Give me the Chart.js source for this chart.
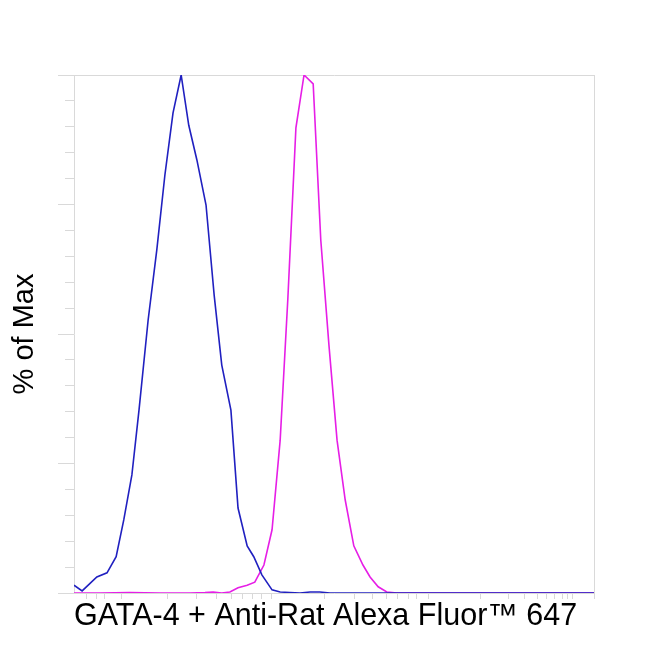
<!DOCTYPE html>
<html>
<head>
<meta charset="utf-8">
<script src="https://cdn.jsdelivr.net/npm/chart.js@4"></script>
<style>
  html, body { margin: 0; padding: 0; background: #ffffff; }
  #wrap { width: 650px; height: 650px; }
</style>
</head>
<body>
<div id="wrap"><canvas id="c" width="650" height="650"></canvas></div>
<script>
// Channel positions (0..1024) and % of Max values
const blueX = [0, 16, 45, 65, 83, 98, 114, 128, 146, 163, 179, 195, 211, 226, 242, 260, 276, 291, 309, 323, 341, 354, 370, 390, 406, 425, 445, 465, 484, 504, 1024];
const blueY = [1.5, 0.4, 3.1, 3.9, 7.0, 14.1, 22.8, 35.3, 52.7, 66.2, 80.7, 92.7, 100, 90.3, 83.6, 74.9, 57.5, 44.0, 35.3, 16.4, 9.1, 7.0, 3.5, 0.6, 0.2, 0.1, 0, 0.2, 0.2, 0, 0];

const magentaX = [0, 51, 110, 169, 228, 258, 274, 291, 307, 323, 341, 356, 374, 390, 406, 421, 437, 453, 471, 486, 502, 518, 534, 551, 569, 583, 599, 616, 636, 1024];
const magentaY = [0, 0, 0.1, 0, 0, 0.1, 0.2, 0, 0.2, 1.0, 1.5, 2.1, 5.4, 12.2, 29.5, 56.6, 89.8, 100, 98.3, 68.1, 47.9, 29.5, 18.0, 9.1, 5.4, 3.1, 1.2, 0.2, 0, 0];

// x-axis (biexponential) tick positions in channel units, no labels
const xTickValues = [24, 45, 61, 93, 185, 242, 280, 311, 331, 352, 370, 388, 494, 553, 587, 616, 638, 658, 675, 699, 800, 855, 888, 912, 931, 947, 961, 971, 981, 1024];

const xTitle = 'GATA-4 + Anti-Rat Alexa Fluor™ 647';
const yTitle = '% of Max';

const toPoints = (xs, ys) => xs.map((x, i) => ({ x: x, y: ys[i] }));
const AXIS_GREY = '#d9d9d9';
const FONT = "'Liberation Sans', Arial, Helvetica, sans-serif";

new Chart(document.getElementById('c'), {
  type: 'line',
  data: {
    datasets: [
      {
        label: 'blue',
        data: toPoints(blueX, blueY),
        borderColor: '#2020c0',
        borderWidth: 1.6,
        pointRadius: 0,
        tension: 0,
        fill: false
      },
      {
        label: 'magenta',
        data: toPoints(magentaX, magentaY),
        borderColor: '#e61ee6',
        borderWidth: 1.6,
        pointRadius: 0,
        tension: 0,
        fill: false
      }
    ]
  },
  options: {
    responsive: false,
    animation: false,
    layout: { padding: { top: 75, right: 56, bottom: 0, left: 0 } },
    plugins: { legend: { display: false }, tooltip: { enabled: false } },
    scales: {
      x: {
        type: 'linear',
        min: 0,
        max: 1024,
        afterBuildTicks: (scale) => { scale.ticks = xTickValues.map(v => ({ value: v })); },
        ticks: { display: false },
        grid: {
          drawOnChartArea: true,
          color: (ctx) => (ctx.tick && ctx.tick.value === 1024) ? AXIS_GREY : 'rgba(0,0,0,0)',
          tickColor: AXIS_GREY,
          tickLength: 6,
          lineWidth: 1
        },
        border: { display: true, color: AXIS_GREY },
        title: {
          display: true,
          text: xTitle,
          align: 'start',
          color: '#000000',
          font: { family: FONT, size: 30.5 },
          padding: { top: -0.8, bottom: 15.2 }
        }
      },
      y: {
        type: 'linear',
        position: 'left',
        weight: 0,
        min: 0,
        max: 100,
        ticks: { display: false, stepSize: 5 },
        grid: {
          drawOnChartArea: true,
          color: (ctx) => (ctx.tick && ctx.tick.value === 100) ? AXIS_GREY : 'rgba(0,0,0,0)',
          tickColor: AXIS_GREY,
          tickLength: 9
        },
        border: { display: true, color: AXIS_GREY }
      },
      yMajor: {
        type: 'linear',
        position: 'left',
        weight: 1,
        min: 0,
        max: 100,
        ticks: { display: false, stepSize: 25 },
        grid: {
          drawOnChartArea: false,
          tickColor: AXIS_GREY,
          tickLength: 7
        },
        border: { display: false },
        title: {
          display: true,
          text: yTitle,
          color: '#000000',
          font: { family: FONT, size: 29 },
          padding: { top: 7.6, bottom: 15.6 }
        }
      }
    }
  }
});
</script>
</body>
</html>
